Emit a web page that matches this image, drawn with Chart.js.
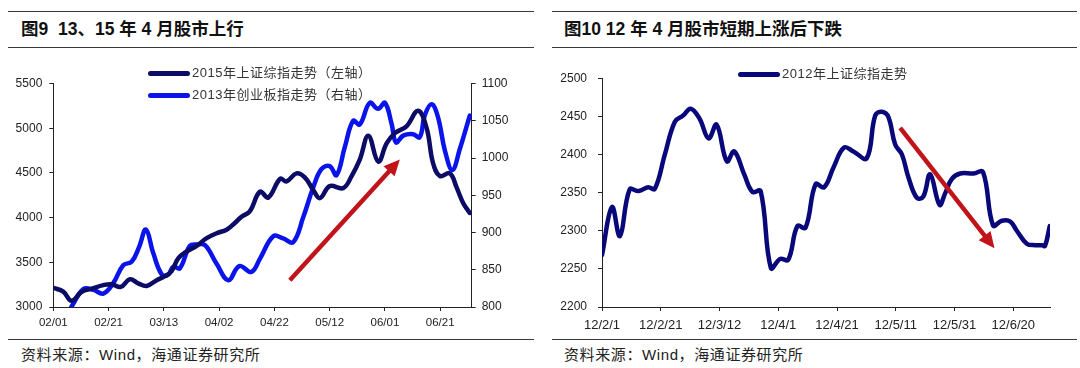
<!DOCTYPE html>
<html>
<head>
<meta charset="utf-8">
<script src="https://cdn.jsdelivr.net/npm/chart.js@4/dist/chart.umd.min.js"></script>
<style>
body { margin:0; width:1080px; height:368px; background:#fff; position:relative; overflow:hidden;
  font-family:"Liberation Sans", Arial, "Noto Sans CJK SC", sans-serif; }
.rule { position:absolute; height:0; border-top:1px solid #3a3a3a; }
.title { position:absolute; top:18px; font-size:17.5px; font-weight:bold; color:#111; white-space:pre; line-height:22px; }
.src { position:absolute; top:345px; font-size:15px; letter-spacing:0.6px; color:#222; line-height:20px; white-space:pre; }
.box { position:absolute; top:60px; width:540px; height:275px; }
.leg { position:absolute; font-size:13px; letter-spacing:0.5px; color:#333; white-space:nowrap; line-height:16px; display:flex; align-items:center; }
.leg i { display:inline-block; width:42px; height:5px; border-radius:3px; margin-right:2px; }
</style>
</head>
<body>

<div class="rule" style="left:8px;top:11px;width:526px"></div>
<div class="rule" style="left:8px;top:47px;width:526px"></div>
<div class="rule" style="left:8px;top:339px;width:526px"></div>
<div class="rule" style="left:552px;top:11px;width:525px"></div>
<div class="rule" style="left:552px;top:47px;width:525px"></div>
<div class="rule" style="left:552px;top:339px;width:525px"></div>

<div class="title" style="left:21px">图9  13、15 年 4 月股市上行</div>
<div class="title" style="left:564px">图10 12 年 4 月股市短期上涨后下跌</div>
<div class="src" style="left:21px">资料来源：Wind，海通证券研究所</div>
<div class="src" style="left:564px">资料来源：Wind，海通证券研究所</div>

<div class="box" style="left:0"><canvas id="c1"></canvas></div>
<div class="box" style="left:540px"><canvas id="c2"></canvas></div>

<div class="leg" style="left:148px;top:65px"><i style="background:#0c0c66"></i>2015年上证综指走势（左轴）</div>
<div class="leg" style="left:148px;top:87px"><i style="background:#0a14ea"></i>2013年创业板指走势（右轴）</div>
<div class="leg" style="left:738px;top:66px"><i style="background:#08087a"></i>2012年上证综指走势</div>

<script>
// x values are days counted from Feb 1 of each year
var days2015 = [0, 3.6, 6.6, 10.3, 13.9, 18.1, 21.1, 24.4, 27.7, 30.7, 33.8, 37.4, 40.4, 42.8, 45.2, 48.2, 51.9, 55.5, 59.1, 62.7, 65.7, 68.1, 71.1, 74.8, 77.8, 82.1, 84.4, 88, 91, 94, 96.5, 100, 104.9, 107.9, 110.9, 114, 117.6, 120.6, 123.6, 127.8, 132, 135.1, 137.4, 139.9, 143.5, 145.9, 148.3, 150.7];
var sh2015 = [3215, 3172, 3070, 3170, 3205, 3245, 3255, 3225, 3310, 3265, 3235, 3300, 3345, 3400, 3545, 3620, 3685, 3770, 3825, 3865, 3940, 4010, 4070, 4290, 4225, 4435, 4405, 4495, 4450, 4312, 4218, 4352, 4330, 4461, 4648, 4915, 4625, 4830, 4945, 5021, 5195, 5000, 4611, 4465, 4495, 4340, 4163, 4052];

var days2013 = [6.5, 10.9, 14.5, 18.1, 21.7, 25.3, 28.4, 31.1, 33.5, 36.2, 39.2, 41.5, 43.4, 45.8, 49.4, 51.9, 54.9, 59.1, 63.3, 67.3, 71.7, 74.8, 79.6, 83.2, 86.8, 90.4, 94, 97, 100, 102.5, 105.5, 108.5, 110.9, 114.5, 117.5, 120, 122.4, 124, 126.6, 130.2, 132.6, 134.4, 136.9, 139.2, 141.7, 144.4, 147.1, 150.7];
var cyb2013 = [800, 824, 823, 818, 832, 856, 861, 881, 904, 872, 844, 843, 854, 852, 882, 884, 883, 858, 836, 855, 847, 865, 895, 892, 887, 920, 960, 985, 989, 977, 1015, 1050, 1045, 1074, 1066, 1074, 1046, 1021, 1030, 1032, 1028, 1057, 1072, 1055, 1010, 984, 1012, 1057];

var days2012 = [0, 3.4, 6.1, 9.4, 12.5, 15.7, 18, 21.4, 24.8, 27.6, 30.2, 33.2, 36.3, 39, 42.5, 45, 48.4, 51.2, 54, 57.5, 60.6, 63.4, 66.5, 69.3, 72.7, 75.6, 78.8, 82.4, 85.6, 90.1, 93, 95.3, 97.5, 99.8, 102.1, 104.3, 107.2, 109.4, 111.7, 114.9, 116.8, 119.1, 121.9, 126.5, 129.7, 133.1, 136.1, 139, 141.2, 144.6, 147.5, 149.8, 150.8, 152.4];
var sh2012 = [2268, 2331, 2293, 2354, 2352, 2357, 2355, 2400, 2443, 2451, 2460, 2447, 2421, 2439, 2391, 2404, 2374, 2351, 2352, 2251, 2263, 2262, 2306, 2304, 2361, 2357, 2383, 2409, 2404, 2395, 2451, 2456, 2449, 2413, 2400, 2370, 2343, 2345, 2374, 2334, 2349, 2368, 2375, 2375, 2377, 2307, 2313, 2312, 2300, 2283, 2281, 2281, 2280, 2306];

// red arrows: [fromDay, fromValue, toDay, toValue]
var arrow1 = [85.6, 3300, 125.4, 4650];
var arrow2 = [101.5, 2435, 133.6, 2277];

function pts(xs, ys) { return xs.map(function (d, i) { return { x: d, y: ys[i] }; }); }
function pad(n) { return (n < 10 ? '0' : '') + n; }

var arrowPlugin = {
  id: 'arrow',
  afterDatasetsDraw: function (chart, args, o) {
    var a = o.points;
    if (!a) return;
    var xs = chart.scales.x, ys = chart.scales.y;
    var x0 = xs.getPixelForValue(a[0]), y0 = ys.getPixelForValue(a[1]);
    var x1 = xs.getPixelForValue(a[2]), y1 = ys.getPixelForValue(a[3]);
    var ang = Math.atan2(y1 - y0, x1 - x0), c = Math.cos(ang), s = Math.sin(ang);
    var head = 16, half = 7.5;
    var ctx = chart.ctx;
    ctx.save();
    ctx.strokeStyle = ctx.fillStyle = o.color;
    ctx.lineWidth = 4.5;
    ctx.beginPath();
    ctx.moveTo(x0, y0);
    ctx.lineTo(x1 - c * head * 0.8, y1 - s * head * 0.8);
    ctx.stroke();
    ctx.beginPath();
    ctx.moveTo(x1, y1);
    ctx.lineTo(x1 - c * head - s * half, y1 - s * head + c * half);
    ctx.lineTo(x1 - c * head + s * half, y1 - s * head - c * half);
    ctx.closePath();
    ctx.fill();
    ctx.restore();
  }
};

var tickFont = { family: '"Liberation Sans", Arial, sans-serif', size: 12 };
var axisGrid = { display: true, drawOnChartArea: false, drawTicks: true, tickLength: 4, color: '#222' };
var axisBorder = { display: true, color: '#222', width: 1 };

new Chart(document.getElementById('c1'), {
  type: 'line',
  data: {
    datasets: [{
      label: '2015年上证综指走势（左轴）',
      data: pts(days2015, sh2015),
      borderColor: '#0c0c66',
      borderWidth: 4.5,
      yAxisID: 'y'
    }, {
      label: '2013年创业板指走势（右轴）',
      data: pts(days2013, cyb2013),
      borderColor: '#0a14ea',
      borderWidth: 4.5,
      yAxisID: 'y1'
    }]
  },
  options: {
    responsive: true,
    maintainAspectRatio: false,
    animation: false,
    devicePixelRatio: 1,
    layout: { padding: { top: 23.5, left: 0, right: 0, bottom: 0 } },
    elements: { point: { radius: 0 }, line: { tension: 0.4, borderCapStyle: 'round', borderJoinStyle: 'round' } },
    plugins: { legend: { display: false }, tooltip: { enabled: false }, arrow: { points: arrow1, color: '#c0141a' } },
    scales: {
      x: {
        type: 'linear', min: 0, max: 151.4, bounds: 'data',
        grid: axisGrid, border: axisBorder,
        ticks: {
          stepSize: 20, includeBounds: false, autoSkip: false, maxRotation: 0, padding: 5,
          color: '#222', font: { family: tickFont.family, size: 11.5 },
          callback: function (v) { var d = new Date(2015, 1, 1 + v); return pad(d.getMonth() + 1) + '/' + pad(d.getDate()); }
        },
        afterFit: function (s) { s.height = 28; }
      },
      y: {
        position: 'left', min: 3000, max: 5500,
        grid: axisGrid, border: axisBorder,
        ticks: { stepSize: 500, padding: 7, color: '#222', font: tickFont, callback: function (v) { return String(v); } },
        afterFit: function (s) { s.width = 53.3; }
      },
      y1: {
        position: 'right', min: 800, max: 1100,
        grid: axisGrid, border: axisBorder,
        ticks: { stepSize: 50, padding: 6, color: '#222', font: tickFont, callback: function (v) { return String(v); } },
        afterFit: function (s) { s.width = 68.3; }
      }
    }
  },
  plugins: [arrowPlugin]
});

new Chart(document.getElementById('c2'), {
  type: 'line',
  data: {
    datasets: [{
      label: '2012年上证综指走势',
      data: pts(days2012, sh2012),
      borderColor: '#08087a',
      borderWidth: 4.5
    }]
  },
  options: {
    responsive: true,
    maintainAspectRatio: false,
    animation: false,
    devicePixelRatio: 1,
    layout: { padding: { top: 11.7, left: 0, right: 30, bottom: 0 } },
    elements: { point: { radius: 0 }, line: { tension: 0.4, borderCapStyle: 'round', borderJoinStyle: 'round' } },
    plugins: { legend: { display: false }, tooltip: { enabled: false }, arrow: { points: arrow2, color: '#c0141a' } },
    scales: {
      x: {
        type: 'linear', min: 0, max: 152.5, bounds: 'data',
        grid: axisGrid, border: axisBorder,
        ticks: {
          stepSize: 20, includeBounds: false, autoSkip: false, maxRotation: 0, padding: 7,
          color: '#222', font: { family: tickFont.family, size: 13 },
          callback: function (v) { var d = new Date(2012, 1, 1 + v); return '12/' + (d.getMonth() + 1) + '/' + d.getDate(); }
        },
        afterFit: function (s) { s.height = 28; }
      },
      y: {
        position: 'left', min: 2200, max: 2500,
        grid: axisGrid, border: axisBorder,
        ticks: { stepSize: 50, padding: 11, color: '#222', font: tickFont, callback: function (v) { return String(v); } },
        afterFit: function (s) { s.width = 62; }
      }
    }
  },
  plugins: [arrowPlugin]
});
</script>
</body>
</html>
